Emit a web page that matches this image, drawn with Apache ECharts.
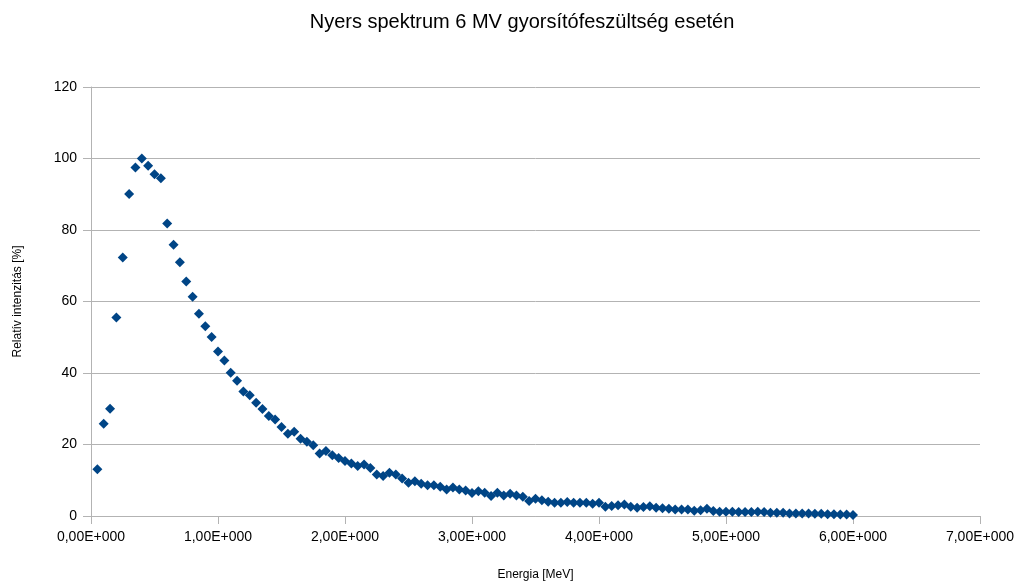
<!DOCTYPE html>
<html>
<head>
<meta charset="utf-8">
<script src="https://cdn.jsdelivr.net/npm/echarts@6/dist/echarts.min.js"></script>
<style>html,body{margin:0;padding:0;background:#fff;}#c{width:1014px;height:582px;}</style>
</head>
<body>
<div id="c"></div>
<script>
const energies = [
  0.05,0.10,0.15,0.20,0.25,0.30,0.35,0.40,0.45,0.50,
  0.55,0.60,0.65,0.70,0.75,0.80,0.85,0.90,0.95,1.00,
  1.05,1.10,1.15,1.20,1.25,1.30,1.35,1.40,1.45,1.50,
  1.55,1.60,1.65,1.70,1.75,1.80,1.85,1.90,1.95,2.00,
  2.05,2.10,2.15,2.20,2.25,2.30,2.35,2.40,2.45,2.50,
  2.55,2.60,2.65,2.70,2.75,2.80,2.85,2.90,2.95,3.00,
  3.05,3.10,3.15,3.20,3.25,3.30,3.35,3.40,3.45,3.50,
  3.55,3.60,3.65,3.70,3.75,3.80,3.85,3.90,3.95,4.00,
  4.05,4.10,4.15,4.20,4.25,4.30,4.35,4.40,4.45,4.50,
  4.55,4.60,4.65,4.70,4.75,4.80,4.85,4.90,4.95,5.00,
  5.05,5.10,5.15,5.20,5.25,5.30,5.35,5.40,5.45,5.50,
  5.55,5.60,5.65,5.70,5.75,5.80,5.85,5.90,5.95,6.00
];
const intensities = [
  13.1,25.8,30.0,55.5,72.3,90.1,97.5,100.0,98.0,95.6,
  94.5,81.8,75.9,71.0,65.6,61.3,56.6,53.1,50.1,46.0,
  43.5,40.1,37.8,34.8,33.8,31.7,29.9,28.0,27.0,24.9,
  23.0,23.6,21.6,20.8,19.8,17.5,18.2,17.0,16.2,15.4,
  14.7,14.0,14.4,13.4,11.6,11.2,12.1,11.6,10.5,9.3,
  9.7,9.0,8.6,8.6,8.2,7.4,8.0,7.4,7.1,6.4,
  6.9,6.5,5.6,6.5,5.7,6.2,5.7,5.4,4.2,4.8,
  4.4,4.0,3.7,3.7,3.9,3.7,3.7,3.7,3.4,3.7,
  2.6,2.8,3.0,3.2,2.6,2.3,2.5,2.7,2.3,2.2,
  2.0,1.8,1.8,1.8,1.5,1.6,2.0,1.4,1.2,1.2,
  1.2,1.1,1.1,1.1,1.2,1.1,0.9,0.9,0.9,0.7,
  0.7,0.7,0.7,0.6,0.6,0.5,0.5,0.4,0.4,0.3
];
const titleText = 'Nyers spektrum 6 MV gyorsítófeszültség esetén';
const xName = 'Energia [MeV]';
const yName = 'Relatív intenzitás [%]';

const chart = echarts.init(document.getElementById('c'), null, {renderer: 'canvas'});
const font = '"Liberation Sans", Arial, sans-serif';
chart.setOption({
  animation: false,
  backgroundColor: '#ffffff',
  title: {
    text: titleText,
    left: 517,
    textAlign: 'center',
    top: 7,
    textStyle: {fontFamily: font, fontSize: 20, fontWeight: 'normal', color: '#000'}
  },
  grid: {left: 91, right: 34, top: 87, bottom: 66, containLabel: false, outerBoundsMode: 'none'},
  xAxis: {
    type: 'value',
    min: 0, max: 7, interval: 1,
    name: xName,
    nameLocation: 'middle',
    nameGap: 53,
    nameTextStyle: {fontFamily: font, fontSize: 12, color: '#000'},
    axisLine: {show: true, lineStyle: {color: '#b3b3b3', width: 1}},
    axisTick: {show: true, inside: false, length: 8, lineStyle: {color: '#b3b3b3'}},
    axisLabel: {
      fontFamily: font, fontSize: 14, color: '#000', margin: 14,
      formatter: v => v.toFixed(2).replace('.', ',') + 'E+000'
    },
    splitLine: {show: false}
  },
  yAxis: {
    type: 'value',
    min: 0, max: 120, interval: 20,
    name: yName,
    nameLocation: 'middle',
    nameGap: 67,
    nameRotate: 90,
    nameTextStyle: {fontFamily: font, fontSize: 12, color: '#000'},
    axisLine: {show: true, lineStyle: {color: '#b3b3b3', width: 1}},
    axisTick: {show: true, inside: false, length: 8, lineStyle: {color: '#b3b3b3'}},
    axisLabel: {fontFamily: font, fontSize: 14, color: '#000', margin: 14},
    splitLine: {show: true, lineStyle: {color: '#b3b3b3', width: 1}}
  },
  series: [{
    type: 'scatter',
    symbol: 'diamond',
    symbolSize: 10,
    itemStyle: {color: '#004586', opacity: 1},
    data: energies.map((e, i) => [e, intensities[i]])
  }]
});
</script>
</body>
</html>
